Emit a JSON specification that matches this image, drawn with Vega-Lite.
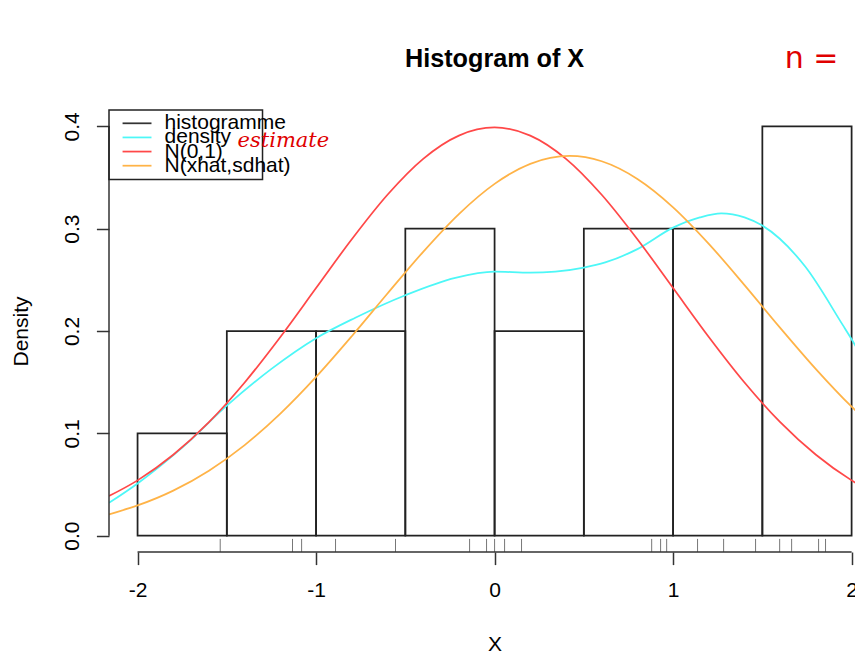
{
  "$schema": "https://vega.github.io/schema/vega-lite/v6.json",
  "width": 746,
  "height": 442,
  "autosize": {"type": "none"},
  "padding": {"left": 109, "top": 110, "right": 0, "bottom": 104},
  "background": "white",
  "config": {"view": {"stroke": null}, "font": "Liberation Sans"},
  "datasets": {
    "hist": [
      {"start": -2, "end": -1.5, "density": 0.1},
      {"start": -1.5, "end": -1, "density": 0.2},
      {"start": -1, "end": -0.5, "density": 0.2},
      {"start": -0.5, "end": 0, "density": 0.3},
      {"start": 0, "end": 0.5, "density": 0.2},
      {"start": 0.5, "end": 1, "density": 0.3},
      {"start": 1, "end": 1.5, "density": 0.3},
      {"start": 1.5, "end": 2, "density": 0.4}
    ],
    "rug": [
      {"x": -1.537}, {"x": -1.132}, {"x": -1.081}, {"x": -0.891}, {"x": -0.555},
      {"x": -0.14}, {"x": -0.045}, {"x": 0.0}, {"x": 0.056}, {"x": 0.151},
      {"x": 0.88}, {"x": 0.93}, {"x": 0.964}, {"x": 1.137}, {"x": 1.283},
      {"x": 1.462}, {"x": 1.597}, {"x": 1.664}, {"x": 1.815}, {"x": 1.854}
    ],
    "curves": [
      {"series": "density", "x": -2.16, "y": 0.032},
      {"series": "density", "x": -2.0, "y": 0.051},
      {"series": "density", "x": -1.75, "y": 0.086},
      {"series": "density", "x": -1.5, "y": 0.127},
      {"series": "density", "x": -1.25, "y": 0.163},
      {"series": "density", "x": -1.0, "y": 0.193},
      {"series": "density", "x": -0.78, "y": 0.213},
      {"series": "density", "x": -0.5, "y": 0.235},
      {"series": "density", "x": -0.22, "y": 0.252},
      {"series": "density", "x": 0.0, "y": 0.258},
      {"series": "density", "x": 0.2, "y": 0.257},
      {"series": "density", "x": 0.34, "y": 0.258},
      {"series": "density", "x": 0.5, "y": 0.262},
      {"series": "density", "x": 0.62, "y": 0.267},
      {"series": "density", "x": 0.8, "y": 0.28},
      {"series": "density", "x": 1.0, "y": 0.301},
      {"series": "density", "x": 1.15, "y": 0.311},
      {"series": "density", "x": 1.27, "y": 0.315},
      {"series": "density", "x": 1.4, "y": 0.311},
      {"series": "density", "x": 1.5, "y": 0.303},
      {"series": "density", "x": 1.74, "y": 0.263},
      {"series": "density", "x": 1.95, "y": 0.206},
      {"series": "density", "x": 2.0, "y": 0.192},
      {"series": "density", "x": 2.05, "y": 0.177},
      {"series": "N(0,1)", "x": -2.16, "y": 0.0387},
      {"series": "N(0,1)", "x": -2.0, "y": 0.054},
      {"series": "N(0,1)", "x": -1.8, "y": 0.079},
      {"series": "N(0,1)", "x": -1.6, "y": 0.1109},
      {"series": "N(0,1)", "x": -1.4, "y": 0.1497},
      {"series": "N(0,1)", "x": -1.2, "y": 0.1942},
      {"series": "N(0,1)", "x": -1.0, "y": 0.242},
      {"series": "N(0,1)", "x": -0.8, "y": 0.2897},
      {"series": "N(0,1)", "x": -0.6, "y": 0.3332},
      {"series": "N(0,1)", "x": -0.4, "y": 0.3683},
      {"series": "N(0,1)", "x": -0.2, "y": 0.391},
      {"series": "N(0,1)", "x": 0.0, "y": 0.3989},
      {"series": "N(0,1)", "x": 0.2, "y": 0.391},
      {"series": "N(0,1)", "x": 0.4, "y": 0.3683},
      {"series": "N(0,1)", "x": 0.6, "y": 0.3332},
      {"series": "N(0,1)", "x": 0.8, "y": 0.2897},
      {"series": "N(0,1)", "x": 1.0, "y": 0.242},
      {"series": "N(0,1)", "x": 1.2, "y": 0.1942},
      {"series": "N(0,1)", "x": 1.4, "y": 0.1497},
      {"series": "N(0,1)", "x": 1.6, "y": 0.1109},
      {"series": "N(0,1)", "x": 1.8, "y": 0.079},
      {"series": "N(0,1)", "x": 2.0, "y": 0.054},
      {"series": "N(0,1)", "x": 2.16, "y": 0.0387},
      {"series": "N(xhat,sdhat)", "x": -2.16, "y": 0.0208},
      {"series": "N(xhat,sdhat)", "x": -2.0, "y": 0.0295},
      {"series": "N(xhat,sdhat)", "x": -1.8, "y": 0.044},
      {"series": "N(xhat,sdhat)", "x": -1.6, "y": 0.0635},
      {"series": "N(xhat,sdhat)", "x": -1.4, "y": 0.0885},
      {"series": "N(xhat,sdhat)", "x": -1.2, "y": 0.1192},
      {"series": "N(xhat,sdhat)", "x": -1.0, "y": 0.1551},
      {"series": "N(xhat,sdhat)", "x": -0.8, "y": 0.1949},
      {"series": "N(xhat,sdhat)", "x": -0.6, "y": 0.2366},
      {"series": "N(xhat,sdhat)", "x": -0.4, "y": 0.2774},
      {"series": "N(xhat,sdhat)", "x": -0.2, "y": 0.3143},
      {"series": "N(xhat,sdhat)", "x": 0.0, "y": 0.3438},
      {"series": "N(xhat,sdhat)", "x": 0.2, "y": 0.3634},
      {"series": "N(xhat,sdhat)", "x": 0.42, "y": 0.3711},
      {"series": "N(xhat,sdhat)", "x": 0.6, "y": 0.3659},
      {"series": "N(xhat,sdhat)", "x": 0.8, "y": 0.3486},
      {"series": "N(xhat,sdhat)", "x": 1.0, "y": 0.3209},
      {"series": "N(xhat,sdhat)", "x": 1.2, "y": 0.2852},
      {"series": "N(xhat,sdhat)", "x": 1.4, "y": 0.2449},
      {"series": "N(xhat,sdhat)", "x": 1.6, "y": 0.2031},
      {"series": "N(xhat,sdhat)", "x": 1.8, "y": 0.1628},
      {"series": "N(xhat,sdhat)", "x": 2.0, "y": 0.126},
      {"series": "N(xhat,sdhat)", "x": 2.16, "y": 0.1001}
    ],
    "leg": [
      {"series": "histogramme"},
      {"series": "density"},
      {"series": "N(0,1)"},
      {"series": "N(xhat,sdhat)"}
    ],
    "one": [{}]
  },
  "layer": [
    {
      "layer": [
        {
          "data": {"name": "hist"},
          "mark": {"type": "rect", "fill": "transparent", "stroke": "#222", "strokeWidth": 1.75},
          "encoding": {
            "x": {
              "field": "start", "type": "quantitative",
              "scale": {"domain": [-2.16, 2.019], "nice": false, "zero": false},
              "axis": {
                "values": [-2, -1, 0, 1, 2], "labelExpr": "'' + datum.value",
                "domain": false, "grid": false,
                "tickSize": 12.6, "tickColor": "#333", "tickWidth": 1.5,
                "labelFontSize": 21, "labelColor": "#000", "labelPadding": 15,
                "title": "X", "titleFontSize": 21, "titleFontWeight": "normal", "titleColor": "#000",
                "titleX": 385.5, "titleY": 98, "titleBaseline": "alphabetic", "titleAlign": "center"
              }
            },
            "x2": {"field": "end"},
            "y": {
              "field": "density", "type": "quantitative",
              "scale": {"domain": [-0.016, 0.416], "nice": false, "zero": false},
              "axis": {
                "values": [0, 0.1, 0.2, 0.3, 0.4], "format": ".1f",
                "domain": false, "grid": false,
                "tickSize": 12.6, "tickColor": "#333", "tickWidth": 1.5,
                "labelAngle": 270, "labelAlign": "center", "labelBaseline": "alphabetic",
                "labelPadding": 18, "labelFontSize": 21, "labelColor": "#000",
                "title": "Density", "titleFontSize": 21, "titleFontWeight": "normal", "titleColor": "#000",
                "titleAngle": 270, "titleX": -82, "titleY": 221, "titleAlign": "center", "titleBaseline": "alphabetic"
              }
            },
            "y2": {"datum": 0}
          }
        },
        {
          "data": {"name": "rug"},
          "mark": {"type": "rule", "stroke": "#777", "strokeWidth": 1},
          "encoding": {
            "x": {"field": "x", "type": "quantitative"},
            "y": {"datum": -0.016},
            "y2": {"datum": -0.0032}
          }
        },
        {
          "data": {"name": "curves"},
          "mark": {"type": "line", "strokeWidth": 1.75, "clip": true, "interpolate": "monotone"},
          "encoding": {
            "x": {"field": "x", "type": "quantitative"},
            "y": {"field": "y", "type": "quantitative"},
            "color": {
              "field": "series", "type": "nominal",
              "scale": {
                "domain": ["histogramme", "density", "N(0,1)", "N(xhat,sdhat)"],
                "range": ["#333333", "#4DF7F7", "#FF4848", "#FFB347"]
              },
              "legend": null
            }
          }
        },
        {
          "data": {"name": "one"},
          "mark": {"type": "rule", "stroke": "#333", "strokeWidth": 1.5},
          "encoding": {"x": {"datum": -2}, "x2": {"datum": 2}, "y": {"datum": -0.016}}
        },
        {
          "data": {"name": "one"},
          "mark": {"type": "rule", "stroke": "#333", "strokeWidth": 1.5},
          "encoding": {"x": {"datum": -2.16}, "y": {"datum": 0}, "y2": {"datum": 0.4}}
        },
        {
          "data": {"name": "one"},
          "mark": {"type": "rect", "fill": "transparent", "stroke": "#222", "strokeWidth": 1.5},
          "encoding": {"x": {"datum": -2.16}, "x2": {"datum": -1.3}, "y": {"datum": 0.416}, "y2": {"datum": 0.348}}
        },
        {
          "data": {"name": "one"},
          "mark": {"type": "text", "text": "Histogram of X", "fontSize": 25.2, "fontWeight": "bold", "align": "center", "baseline": "alphabetic", "dy": -43, "color": "#000"},
          "encoding": {"x": {"datum": 0}, "y": {"datum": 0.416}}
        },
        {
          "data": {"name": "one"},
          "mark": {"type": "text", "text": "estimate", "fontSize": 21, "fontStyle": "italic", "font": "DejaVu Serif", "align": "left", "baseline": "middle", "color": "#E00000"},
          "encoding": {"x": {"datum": -1.44}, "y": {"datum": 0.386}}
        },
        {
          "data": {"name": "one"},
          "mark": {"type": "text", "text": "n =\u00a0\u00a0\u00a02", "fontSize": 30, "font": "DejaVu Sans", "align": "left", "baseline": "alphabetic", "dy": -42, "color": "#E00000"},
          "encoding": {"x": {"datum": 1.625}, "y": {"datum": 0.416}}
        }
      ]
    },
    {
      "data": {"name": "leg"},
      "layer": [
        {
          "mark": {"type": "rule", "strokeWidth": 1.75},
          "encoding": {
            "x": {"datum": -2.084},
            "x2": {"datum": -1.922},
            "y": {"field": "series", "type": "nominal", "scale": {"type": "point", "domain": ["histogramme", "density", "N(0,1)", "N(xhat,sdhat)"], "range": [13.3, 55.7], "padding": 0}, "axis": null},
            "color": {"field": "series", "type": "nominal", "legend": null}
          }
        },
        {
          "mark": {"type": "text", "align": "left", "baseline": "middle", "fontSize": 21, "color": "#000"},
          "encoding": {
            "x": {"datum": -1.849},
            "y": {"field": "series", "type": "nominal", "scale": {"type": "point", "domain": ["histogramme", "density", "N(0,1)", "N(xhat,sdhat)"], "range": [13.3, 55.7], "padding": 0}, "axis": null},
            "text": {"field": "series"}
          }
        }
      ]
    }
  ],
  "resolve": {"scale": {"y": "independent"}}
}
